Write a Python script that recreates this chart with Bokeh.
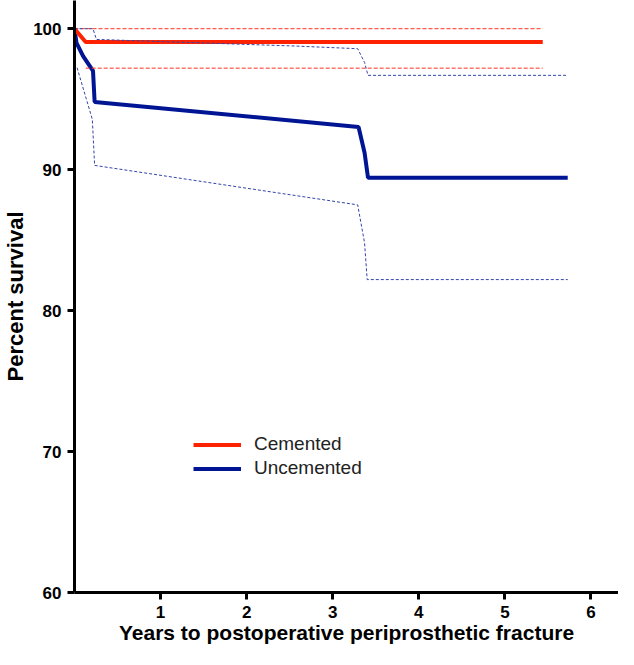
from bokeh.plotting import figure
from bokeh.models import Legend, LegendItem, FixedTicker, Range1d
from bokeh.embed import file_html
from bokeh.resources import INLINE

# Kaplan-Meier survival estimates (years, percent survival)
cem_x = [0, 0.13, 5.44]
cem_y = [100, 99.06, 99.06]
cem_upper_x = [0, 5.44]
cem_upper_y = [100, 100]
cem_lower_x = [0.13, 5.44]
cem_lower_y = [97.2, 97.2]

unc_x = [0, 0.023, 0.10, 0.215, 0.234, 3.30, 3.37, 3.41, 5.73]
unc_y = [100, 99.0, 98.06, 97.0, 94.8, 93.03, 91.2, 89.43, 89.43]
unc_upper_x = [0, 0.215, 0.254, 2.56, 3.29, 3.37, 3.41, 5.71]
unc_upper_y = [100, 100, 99.24, 98.77, 98.58, 97.6, 96.69, 96.69]
unc_lower_x = [0.03, 0.207, 0.234, 3.29, 3.37, 3.40, 5.73]
unc_lower_y = [97.23, 93.57, 90.3, 87.5, 84.8, 82.2, 82.2]

x_ticks = [1, 2, 3, 4, 5, 6]
y_ticks = [60, 70, 80, 90, 100]
series_names = ["Cemented", "Uncemented"]

RED = "#ff2200"
BLUE = "#001593"
FONT = "Liberation Sans"

p = figure(width=618, height=649, output_backend="svg", toolbar_location=None,
           x_range=Range1d(0, 6.32), y_range=Range1d(60, 102),
           min_border_left=70, min_border_right=0, min_border_top=0,
           min_border_bottom=57)
p.outline_line_color = None
p.xgrid.visible = False
p.ygrid.visible = False

for ax in (p.xaxis[0], p.yaxis[0]):
    ax.axis_line_width = 3
    ax.major_tick_line_width = 3
    ax.major_tick_out = 7
    ax.major_tick_in = 0
    ax.minor_tick_line_color = None
    ax.major_label_text_font = FONT
    ax.major_label_text_font_style = "bold"
    ax.major_label_text_font_size = "17px"
    ax.major_label_text_color = "black"
    ax.axis_label_text_font = FONT
    ax.axis_label_text_font_style = "bold"
    ax.axis_label_text_color = "black"

p.xaxis.axis_label_text_font_size = "21px"
p.yaxis.axis_label_text_font_size = "22px"
p.xaxis.ticker = FixedTicker(ticks=x_ticks)
p.yaxis.ticker = FixedTicker(ticks=y_ticks)
p.xaxis.axis_label = "Years to postoperative periprosthetic fracture"
p.yaxis.axis_label = "Percent survival"
p.xaxis.major_label_standoff = 6
p.xaxis.axis_label_standoff = 0
p.yaxis.major_label_standoff = 6
p.yaxis.axis_label_standoff = 2

r_unc = p.line(unc_x, unc_y, line_color=BLUE, line_width=4)
r_cem = p.line(cem_x, cem_y, line_color=RED, line_width=4)

p.line(cem_upper_x, cem_upper_y, line_color="#ff3322", line_width=1, line_dash="4 2")
p.line(cem_lower_x, cem_lower_y, line_color="#ff3322", line_width=1, line_dash="4 2")
p.line(unc_upper_x, unc_upper_y, line_color="#3344aa", line_width=1, line_dash="3 2")
p.line(unc_lower_x, unc_lower_y, line_color="#3344aa", line_width=1, line_dash="3 2")

legend = Legend(items=[LegendItem(label=series_names[0], renderers=[r_cem]),
                       LegendItem(label=series_names[1], renderers=[r_unc])],
                location=(119, 113), padding=0, margin=0,
                border_line_color=None, background_fill_alpha=0,
                glyph_width=48, glyph_height=21, label_height=21,
                label_standoff=13, spacing=2,
                label_text_font=FONT, label_text_font_size="19px",
                label_text_color="#222222")
p.add_layout(legend)

open("out.html", "w").write(file_html(p, INLINE))
